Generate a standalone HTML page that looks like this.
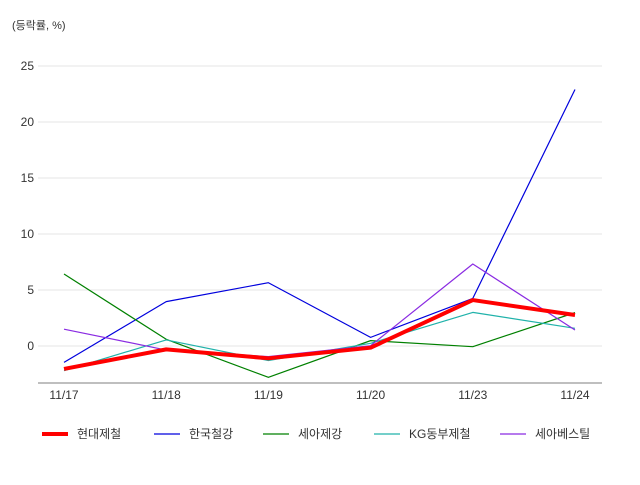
<!DOCTYPE html>
<html><head><meta charset="utf-8"><style>
body{margin:0;background:#fff;}
svg text{font-family:"Liberation Sans","Noto Sans CJK KR",sans-serif;}
</style></head><body>
<svg width="640" height="480" id="c" xmlns="http://www.w3.org/2000/svg">
<text x="12" y="29" font-size="11" fill="#333">(등락률, %)</text>
<g id="grid"></g><g id="lines"></g><g id="legend"></g>
</svg>
<script>
const categories=["11/17","11/18","11/19","11/20","11/23","11/24"];
const yTicks=[0,5,10,15,20,25];
const seriesNames=["현대제철","한국철강","세아제강","KG동부제철","세아베스틸"];
const hyundai=[-2.05,-0.3,-1.1,-0.15,4.1,2.77];
const hankook=[-1.46,3.96,5.65,0.77,4.25,22.9];
const seahSteel=[6.43,0.6,-2.8,0.48,-0.06,2.98];
const kgDongbu=[-2.2,0.54,-1.3,0.24,3.0,1.58];
const seahBesteel=[1.5,-0.36,-0.95,0.03,7.32,1.43];
const colors=["#ff0000","#0000dd","#008000","#20b2aa","#8a2be2"];
const widths=[4,1.2,1.2,1.2,1.2];
const all=[hyundai,hankook,seahSteel,kgDongbu,seahBesteel];
const NS="http://www.w3.org/2000/svg";
const x=i=>64+i*(575-64)/(categories.length-1);
const y=v=>346-v*11.2;
function mk(t,a,p){const e=document.createElementNS(NS,t);for(const k in a)e.setAttribute(k,a[k]);p.appendChild(e);return e;}
const g=document.getElementById('grid');
yTicks.forEach(t=>{
 const l=mk('line',{x1:38,x2:602,y1:y(t),y2:y(t),stroke:'#e6e6e6'},g);
 
 
 const tx=mk('text',{x:34,y:y(t)+4,'font-size':12,fill:'#333','text-anchor':'end'},g);
 tx.textContent=t;
 
 
});
const ax=mk('line',{x1:38,x2:602,y1:383,y2:383,stroke:'#aaa','stroke-width':1.5},g);


categories.forEach((c,i)=>{
 const tx=mk('text',{x:x(i),y:399,'font-size':12,fill:'#333','text-anchor':'middle'},g);
 tx.textContent=c;
 
 
});
const L=document.getElementById('lines');
[1,2,3,4,0].forEach(s=>{
 const p=mk('polyline',{points:all[s].map((v,i)=>x(i)+','+y(v)).join(' '),fill:'none',stroke:colors[s],'stroke-width':widths[s],'stroke-linejoin':'round'},L);
 
 
});
const lg=document.getElementById('legend');
const lx=[42,154,263,374,500];
seriesNames.forEach((n,s)=>{
 const gg=mk('g',{},lg);
 
 
 mk('line',{x1:lx[s],x2:lx[s]+26,y1:434,y2:434,stroke:colors[s],'stroke-width':widths[s]},gg);
 const t=mk('text',{x:lx[s]+35,y:438,'font-size':12,fill:'#333'},gg);
 t.textContent=n;
});
</script>
</body></html>
